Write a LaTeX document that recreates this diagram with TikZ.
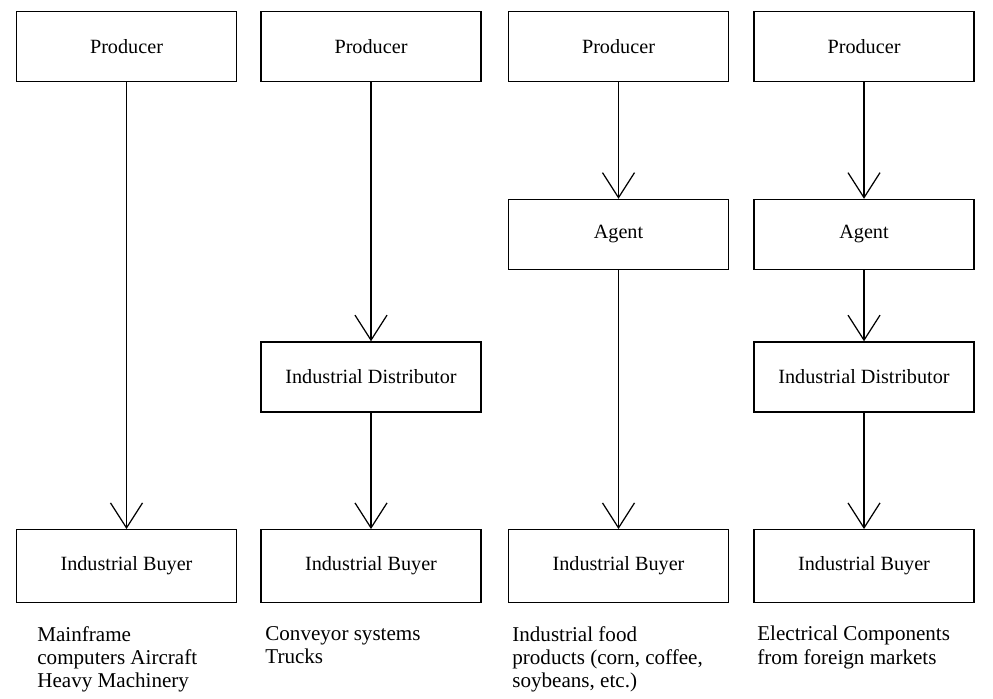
\documentclass[tikz,border=0pt]{standalone}
\usepackage{fontspec}
\setmainfont{Liberation Serif}
\usetikzlibrary{arrows.meta}
\tikzset{
	chan/.style={draw, line width=0.8pt, minimum width=4.4cm, minimum height=1.4cm, font=\fontsize{11.5}{13}\selectfont},
	flow/.style={line width=0.7pt, -{Straight Barb[length=5mm, width=6.4mm, line width=0.7pt]}},
	item/.style={anchor=north west, inner sep=0pt, align=left, font=\fontsize{12}{13.2}\selectfont}
}
\begin{document}
\begin{tikzpicture}
	\useasboundingbox (0,0) rectangle (19.86,-13.98);
	\node[chan] (p1) at (2.53,-0.93) {Producer};
	\node[chan] (p2) at (7.42,-0.93) {Producer};
	\node[chan] (p3) at (12.37,-0.93) {Producer};
	\node[chan] (p4) at (17.28,-0.93) {Producer};
	\node[chan] (a3) at (12.37,-4.69) {Agent};
	\node[chan] (a4) at (17.28,-4.69) {Agent};
	\node[chan] (d2) at (7.42,-7.54) {Industrial Distributor};
	\node[chan] (d4) at (17.28,-7.54) {Industrial Distributor};
	\node[chan, minimum height=1.45cm] (b1) at (2.53,-11.32) {Industrial Buyer};
	\node[chan, minimum height=1.45cm] (b2) at (7.42,-11.32) {Industrial Buyer};
	\node[chan, minimum height=1.45cm] (b3) at (12.37,-11.32) {Industrial Buyer};
	\node[chan, minimum height=1.45cm] (b4) at (17.28,-11.32) {Industrial Buyer};
	\draw[flow] (p1) -- (b1);
	\draw[flow] (p2) -- (d2);
	\draw[flow] (d2) -- (b2);
	\draw[flow] (p3) -- (a3);
	\draw[flow] (a3) -- (b3);
	\draw[flow] (p4) -- (a4);
	\draw[flow] (a4) -- (d4);
	\draw[flow] (d4) -- (b4);
	\node[item] (n1) at (0.74,-12.52) {Mainframe\\computers Aircraft\\Heavy Machinery};
	\node[item] (n2) at (5.30,-12.52) {Conveyor systems\\Trucks};
	\node[item] (n3) at (10.24,-12.52) {Industrial food\\products (corn, coffee,\\soybeans, etc.)};
	\node[item] (n4) at (15.14,-12.52) {Electrical Components\\from foreign markets};
\end{tikzpicture}
\end{document}
